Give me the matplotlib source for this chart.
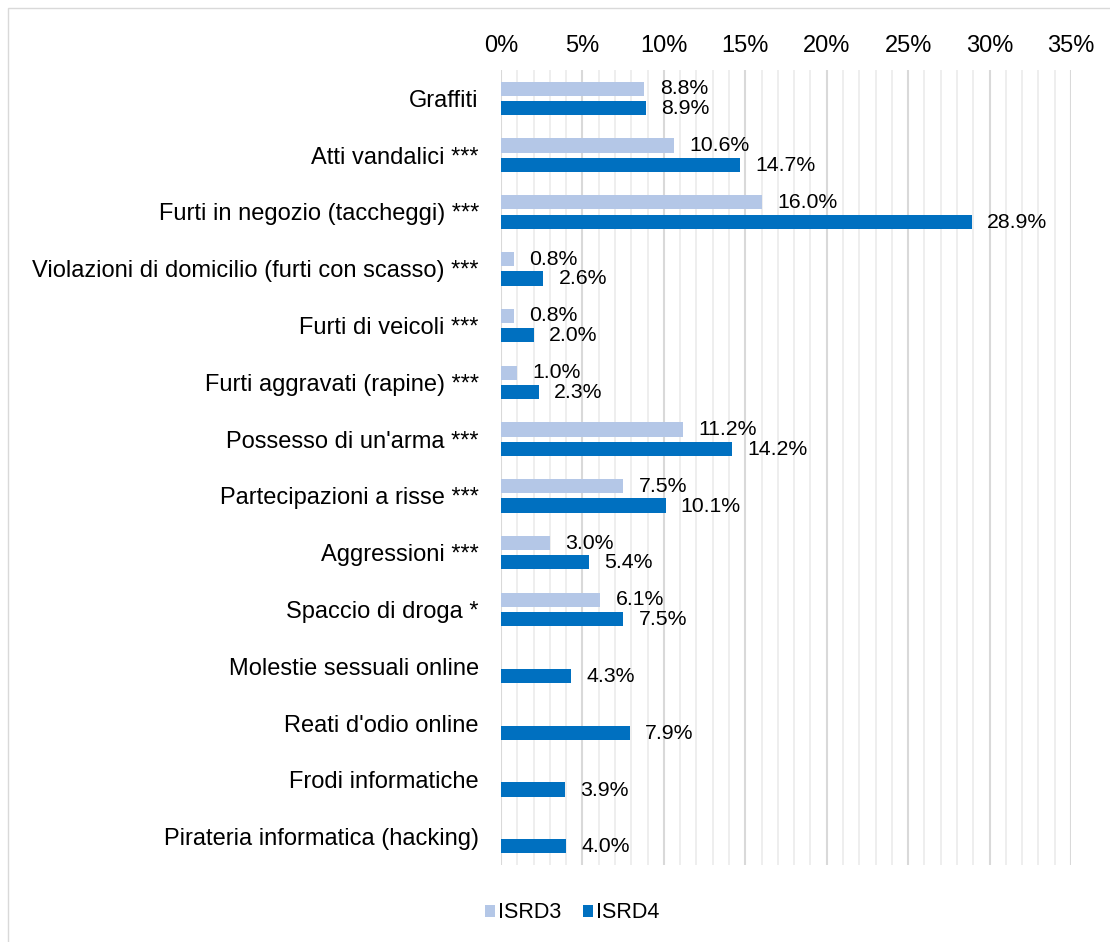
import numpy as np
import matplotlib.pyplot as plt
from matplotlib.patches import Rectangle

plt.rcParams['font.family'] = ['Liberation Sans', 'DejaVu Sans']

categories = ["Graffiti", "Atti vandalici ***", "Furti in negozio (taccheggi) ***",
              "Violazioni di domicilio (furti con scasso) ***", "Furti di veicoli ***",
              "Furti aggravati (rapine) ***", "Possesso di un'arma ***",
              "Partecipazioni a risse ***", "Aggressioni ***", "Spaccio di droga *",
              "Molestie sessuali online", "Reati d'odio online", "Frodi informatiche",
              "Pirateria informatica (hacking)"]
isrd3 = [8.8, 10.6, 16.0, 0.8, 0.8, 1.0, 11.2, 7.5, 3.0, 6.1, np.nan, np.nan, np.nan, np.nan]
isrd4 = [8.9, 14.7, 28.9, 2.6, 2.0, 2.3, 14.2, 10.1, 5.4, 7.5, 4.3, 7.9, 3.9, 4.0]

c3 = "#b4c7e7"
c4 = "#0070c0"

fig = plt.figure(figsize=(11.1, 9.42), dpi=100)
ax = fig.add_axes([0.4514, 0.0817, 0.5135, 0.844])

y = np.arange(len(categories))
h = 0.25
ax.barh(y - 0.17, isrd3, height=h, color=c3, label="ISRD3", zorder=3)
ax.barh(y + 0.17, isrd4, height=h, color=c4, label="ISRD4", zorder=3)

# etichette valori
for i in range(len(categories)):
    if not np.isnan(isrd3[i]):
        ax.annotate("{:.1f}%".format(isrd3[i]), (isrd3[i], y[i] - 0.17), xytext=(11, 0),
                    textcoords="offset points", va="center", ha="left", fontsize=15.3)
    ax.annotate("{:.1f}%".format(isrd4[i]), (isrd4[i], y[i] + 0.18), xytext=(11, 0),
                textcoords="offset points", va="center", ha="left", fontsize=15.3)

ax.set_xlim(0, 35)
ax.set_ylim(13.5, -0.5)
ax.set_xticks(np.arange(0, 36, 5))
ax.set_xticks(np.arange(0, 36, 1), minor=True)
ax.set_xticklabels(["{}%".format(v) for v in range(0, 36, 5)], fontsize=17)
ax.xaxis.tick_top()
ax.set_yticks(y)
ax.set_yticklabels(categories, fontsize=17)
ax.tick_params(axis="both", which="both", length=0)
ax.tick_params(axis="x", pad=9.5)
ax.tick_params(axis="y", pad=16)
ax.grid(axis="x", which="major", color="#d9d9d9", linewidth=1.5, zorder=0)
ax.grid(axis="x", which="minor", color="#ebebeb", linewidth=1.2, zorder=0)
for s in ax.spines.values():
    s.set_visible(False)

ax.legend(loc="center", bbox_to_anchor=(572 / 1110, 1 - 913 / 942), bbox_transform=fig.transFigure,
          ncol=2, frameon=False, fontsize=15.5, handlelength=0.47, handleheight=0.47,
          handletextpad=0.15, columnspacing=1.0)

fig.patches.append(Rectangle((8 / 1110, -0.01), 1.1, 1 - 8 / 942 + 0.01, transform=fig.transFigure,
                             fill=False, edgecolor="#d9d9d9", linewidth=1))

plt.savefig("out.png", dpi=100)
